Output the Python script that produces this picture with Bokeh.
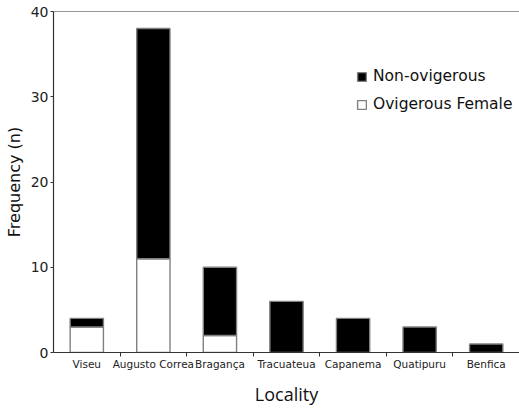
import numpy as np
from bokeh.plotting import figure
from bokeh.models import (Range1d, FixedTicker, Legend, LegendItem, Span, ColumnDataSource)
from bokeh.embed import file_html
from bokeh.resources import INLINE

categories = ["Viseu", "Augusto Correa", "Bragança", "Tracuateua", "Capanema", "Quatipuru", "Benfica"]
ovigerous_female = [3, 11, 2, 0, 0, 0, 0]
non_ovigerous = [1, 27, 8, 6, 4, 3, 1]
y_ticks = [0, 10, 20, 30, 40]

n = len(categories)
xs = np.arange(n) + 0.5
src = ColumnDataSource(dict(x=xs, ovig=ovigerous_female, nonovig=non_ovigerous))

p = figure(width=519, height=408, output_backend="svg", toolbar_location=None,
           x_range=Range1d(0, n), y_range=Range1d(0, 40),
           min_border_left=53, min_border_right=0, min_border_top=11, min_border_bottom=56)

rs = p.vbar_stack(["ovig", "nonovig"], x="x", width=0.5, source=src,
                  fill_color=["white", "black"], line_color="#808080", line_width=1.4)

p.grid.visible = False
p.outline_line_color = None
p.background_fill_color = "white"
p.add_layout(Span(location=40, dimension="width", line_color="#333333", line_width=1.2))

# x axis
xa = p.xaxis[0]
xa.ticker = FixedTicker(ticks=list(xs), minor_ticks=list(range(1, n)))
xa.major_label_overrides = {float(x): c for x, c in zip(xs, categories)}
xa.major_tick_out = 0
xa.major_tick_in = 0
xa.minor_tick_out = 4
xa.minor_tick_in = 0
xa.minor_tick_line_color = "#333333"
xa.axis_line_color = "#333333"
xa.axis_line_width = 1.2
xa.major_label_standoff = 1
xa.major_label_text_font = "DejaVu Sans"
xa.major_label_text_font_size = "10.5px"
xa.major_label_text_color = "#222222"
xa.axis_label = "Locality"
xa.axis_label_text_font = "Open Sans"
xa.axis_label_text_font_size = "18px"
xa.axis_label_text_font_style = "normal"
xa.axis_label_text_color = "#111111"
xa.axis_label_standoff = 9

# y axis
ya = p.yaxis[0]
ya.ticker = FixedTicker(ticks=y_ticks)
ya.minor_tick_line_color = None
ya.major_tick_out = 3
ya.major_tick_in = 0
ya.major_tick_line_color = "#333333"
ya.axis_line_color = "#333333"
ya.axis_line_width = 1.2
ya.major_label_standoff = 2
ya.major_label_text_font = "DejaVu Sans"
ya.major_label_text_font_size = "14px"
ya.major_label_text_color = "#222222"
ya.axis_label = "Frequency (n)"
ya.axis_label_text_font = "DejaVu Sans"
ya.axis_label_text_font_size = "16px"
ya.axis_label_text_font_style = "normal"
ya.axis_label_text_color = "#111111"
ya.axis_label_standoff = 4

legend = Legend(items=[LegendItem(label="Non-ovigerous", renderers=[rs[1]]),
                       LegendItem(label="Ovigerous Female", renderers=[rs[0]])],
                location=(303, 239), orientation="vertical",
                glyph_width=11, glyph_height=11, label_standoff=6,
                label_height=18, spacing=10, padding=0, margin=0,
                border_line_color=None, background_fill_alpha=0,
                label_text_font="DejaVu Sans", label_text_font_size="15.5px",
                label_text_color="#111111")
p.add_layout(legend)

open("out.html", "w").write(file_html(p, INLINE))
